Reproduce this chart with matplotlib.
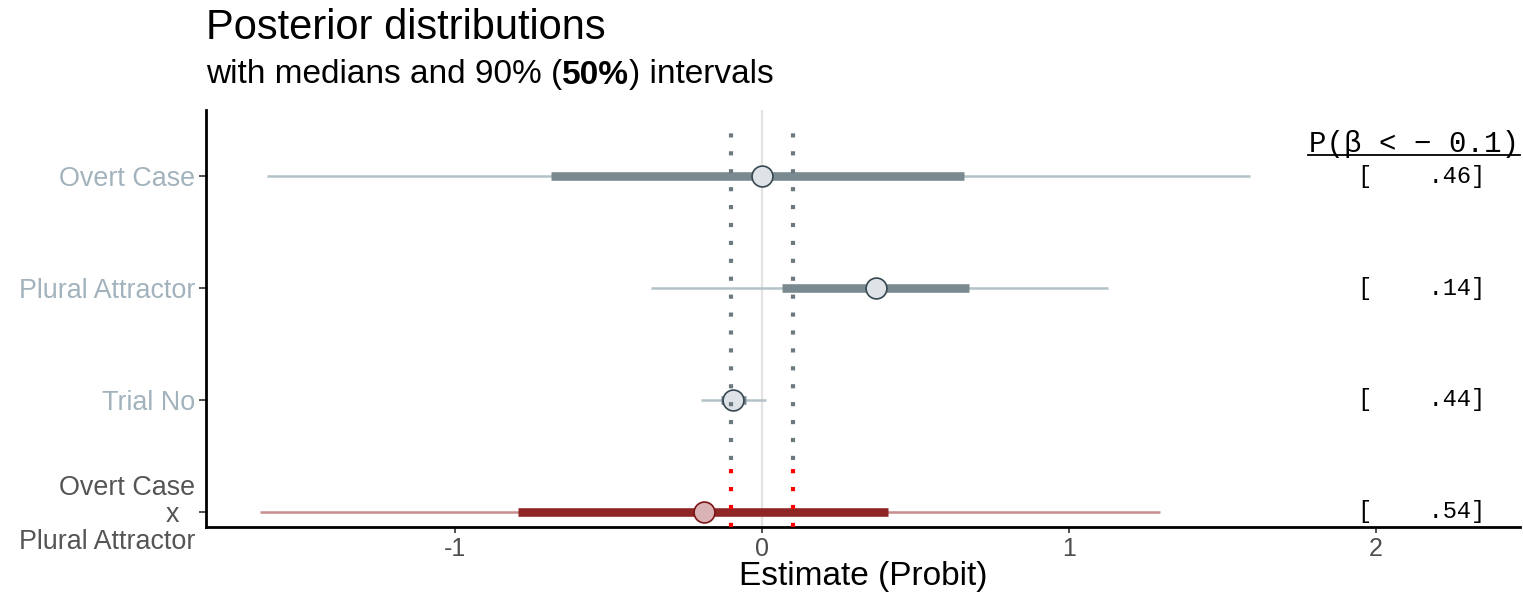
import matplotlib
matplotlib.use("Agg")
import matplotlib.pyplot as plt

# Daten (Probit-Skala)
labels = ["Overt Case", "Plural Attractor", "Trial No", "Overt Case\nx  \nPlural Attractor"]
median = [0.0, 0.371, -0.094, -0.189]
lo90 = [-1.612, -0.362, -0.199, -1.635]
hi90 = [1.590, 1.127, 0.013, 1.296]
lo50 = [-0.687, 0.065, -0.134, -0.795]
hi50 = [0.658, 0.674, -0.052, 0.410]
p_werte = [".46", ".14", ".44", ".54"]
rope = [-0.1, 0.1]

plt.rcParams["font.family"] = ["Liberation Sans", "DejaVu Sans"]

fig = plt.figure(figsize=(15.23, 6.0), dpi=100)
ax = fig.add_axes([0.1353, 0.1217, 0.8627, 0.695])

ypos = [4, 3, 2, 1]
farben = ["grau", "grau", "grau", "rot"]
stil = {
    "grau": dict(duenn="#b4c2c9", dick="#7a8a91", fill="#dde3e7", edge="#37474f"),
    "rot": dict(duenn="#c98c8c", dick="#8e2626", fill="#d9b3b6", edge="#7d1414"),
}

# Nulllinie
ax.axvline(0, color="#e3e3e3", lw=1.6, zorder=0)

for i in range(len(labels)):
    s = stil[farben[i]]
    y = ypos[i]
    ax.plot([lo90[i], hi90[i]], [y, y], color=s["duenn"], lw=1.8, solid_capstyle="butt", zorder=1)
    ax.plot([lo50[i], hi50[i]], [y, y], color=s["dick"], lw=6.2, solid_capstyle="butt", zorder=2)
    ax.scatter([median[i]], [y], s=225, facecolor=s["fill"], edgecolor=s["edge"], lw=1.2, zorder=3)

# ROPE-Grenzen als gepunktete Linien
for r in rope:
    ax.plot([r, r], [1.46, 4.47], color="#6c7a80", lw=3, ls=(0, (1, 3.3)), zorder=4)
    ax.plot([r, r], [0.866, 1.46], color="#ff0000", lw=3, ls=(0, (1, 3.3)), zorder=4)

ax.set_xlim(-1.811, 2.469)
ax.set_ylim(0.866, 4.59)
ax.set_xticks([-1, 0, 1, 2])
ax.set_xticklabels(["-1", "0", "1", "2"])
ax.set_yticks(ypos)
ax.set_yticklabels(labels, multialignment="right")
ax.tick_params(axis="x", labelsize=18, colors="#333333", length=4, width=1.2, labelcolor="#4d4d4d")
ax.tick_params(axis="y", labelsize=19.4, length=5, width=1.2, colors="#333333", pad=3)
for t, c in zip(ax.get_yticklabels(), ["#a3b3bd", "#a3b3bd", "#a3b3bd", "#555555"]):
    t.set_color(c)
    t.set_linespacing(1.05)
ax.set_xlabel("Estimate (Probit)", fontsize=24, color="black", labelpad=0)

for side in ["top", "right"]:
    ax.spines[side].set_visible(False)
for side in ["left", "bottom"]:
    ax.spines[side].set_linewidth(2)
    ax.spines[side].set_color("black")

# Spalte mit Wahrscheinlichkeiten
ax.text(2.124, 4.29, "P(\u03b2 < \u2212 0.1)", family="Liberation Mono", fontsize=21,
        ha="center", va="center", color="black")
ax.plot([1.779, 2.469], [4.19, 4.19], color="black", lw=1.3, clip_on=False)
for i in range(len(p_werte)):
    ax.text(2.355, ypos[i], "[    " + p_werte[i] + "]", family="Liberation Mono", fontsize=17,
            ha="right", va="center", color="black")

# Titel und Untertitel mit fettem Teil
fig.text(0.1353, 0.953, "Posterior distributions", fontsize=30, ha="left", va="center")
teile = [("with medians and 90% (", "normal"), ("50%", "bold"), (") intervals", "normal")]
r = fig.canvas.get_renderer()
x = 0.1353
for txt, w in teile:
    t = fig.text(x, 0.875, txt, fontsize=24, ha="left", va="center", fontweight=w)
    bb = t.get_window_extent(renderer=r)
    x += bb.width / fig.bbox.width

fig.savefig("out.png", dpi=100)
